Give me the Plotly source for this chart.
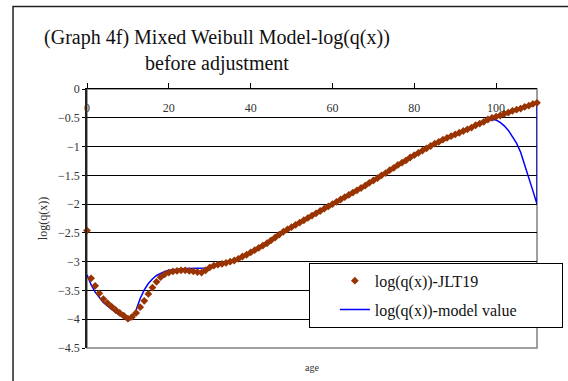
import plotly.graph_objects as go

ages = list(range(0, 111))

jlt19 = [
    -2.46, -3.29, -3.42, -3.55, -3.65, -3.72, -3.78, -3.84, -3.89, -3.94,
    -3.99, -3.96, -3.89, -3.79, -3.68, -3.56, -3.45, -3.35, -3.27, -3.22,
    -3.19, -3.17, -3.16, -3.15, -3.15, -3.16, -3.17, -3.18, -3.19, -3.15,
    -3.10, -3.07, -3.05, -3.04, -3.02, -3.00, -2.98, -2.95, -2.91, -2.88,
    -2.84, -2.80, -2.76, -2.72, -2.68, -2.63, -2.58, -2.53, -2.48, -2.44,
    -2.40, -2.36, -2.32, -2.28, -2.24, -2.20, -2.16, -2.12, -2.08, -2.04,
    -2.00, -1.96, -1.92, -1.88, -1.84, -1.80, -1.76, -1.72, -1.68, -1.63,
    -1.59, -1.55, -1.50, -1.46, -1.41, -1.37, -1.32, -1.28, -1.24, -1.19,
    -1.15, -1.11, -1.07, -1.03, -0.99, -0.95, -0.92, -0.88, -0.85, -0.82,
    -0.79, -0.76, -0.73, -0.70, -0.67, -0.63, -0.60, -0.57, -0.53, -0.50,
    -0.48, -0.46, -0.43, -0.41, -0.38, -0.36, -0.34, -0.31, -0.29, -0.26,
    -0.24,
]

model_ages = ages + [110]
model = [
    -3.23, -3.40, -3.53, -3.63, -3.71, -3.77, -3.83, -3.88, -3.93, -3.98,
    -4.03, -3.99, -3.84, -3.64, -3.49, -3.38, -3.30, -3.24, -3.20, -3.17,
    -3.15, -3.14, -3.13, -3.12, -3.12, -3.12, -3.12, -3.12, -3.12, -3.11,
    -3.09, -3.07, -3.05, -3.03, -3.01, -2.99, -2.96, -2.93, -2.90, -2.87,
    -2.83, -2.79, -2.75, -2.70, -2.66, -2.61, -2.56, -2.51, -2.46, -2.42,
    -2.38, -2.34, -2.30, -2.27, -2.23, -2.19, -2.15, -2.11, -2.07, -2.03,
    -1.99, -1.95, -1.91, -1.87, -1.83, -1.79, -1.75, -1.71, -1.66, -1.62,
    -1.57, -1.53, -1.48, -1.44, -1.39, -1.35, -1.30, -1.26, -1.22, -1.17,
    -1.13, -1.10, -1.06, -1.02, -0.98, -0.94, -0.91, -0.87, -0.84, -0.81,
    -0.78, -0.75, -0.72, -0.69, -0.66, -0.63, -0.60, -0.57, -0.54, -0.53,
    -0.54, -0.58, -0.64, -0.72, -0.82, -0.94, -1.10, -1.31, -1.54, -1.77,
    -2.00, -0.24,
]

title_lines = ["(Graph 4f) Mixed Weibull Model-log(q(x))", "before adjustment"]
series_names = ["log(q(x))-JLT19", "log(q(x))-model value"]
y_title = "log(q(x))"
x_title = "age"

FONT = "Liberation Serif"
PAD = "\u00a0" * 10

fig = go.Figure()
fig.add_trace(go.Scatter(
    x=model_ages, y=model, mode="lines", name=series_names[1] + PAD,
    line=dict(color="#0000FF", width=1.5),
    cliponaxis=False, legendgroup="b", legendrank=2,
))
fig.add_trace(go.Scatter(
    x=ages, y=jlt19, mode="markers", name=series_names[0],
    marker=dict(symbol="diamond", size=6, color="#993300"),
    cliponaxis=False, legendgroup="a", legendrank=1,
))
# invisible carrier so the label axis (x2) gets drawn
fig.add_trace(go.Scatter(
    x=ages, y=jlt19, xaxis="x2", mode="markers",
    marker=dict(opacity=0, size=1), showlegend=False, hoverinfo="skip",
))

fig.update_layout(
    width=568, height=381,
    margin=dict(l=87, r=31, t=89, b=33, autoexpand=False),
    paper_bgcolor="white", plot_bgcolor="white",
    font=dict(family=FONT, color="#222", size=11),
    showlegend=True,
    legend=dict(
        x=0.493, y=0.329, xanchor="left", yanchor="top",
        bgcolor="white", bordercolor="#000", borderwidth=1,
        font=dict(family=FONT, size=16, color="#111"),
        traceorder="grouped", tracegroupgap=5,
        itemwidth=30, indentation=25,
    ),
    title=dict(
        text="<br>".join(title_lines),
        x=0.382, xref="container", xanchor="center",
        y=1 - 43.5 / 381, yref="container", yanchor="middle",
        font=dict(family=FONT, size=20, color="#111"),
    ),
    xaxis=dict(
        range=[0, 110], tick0=0, dtick=20, side="top",
        ticks="outside", ticklen=5, tickcolor="#000",
        showticklabels=False,
        showline=True, linecolor="#000", linewidth=1,
        showgrid=False, zeroline=False,
    ),
    xaxis2=dict(
        range=[0, 110], overlaying="x", side="bottom", anchor="free", position=1,
        tick0=0, dtick=20, ticks="", showline=False, showgrid=False, zeroline=False,
        ticklabelstandoff=10,
        tickfont=dict(family=FONT, size=12, color="#333"),
    ),
    yaxis=dict(
        range=[-4.5, 0], tick0=0, dtick=0.5,
        ticks="outside", ticklen=3, tickcolor="#000",
        showline=True, linecolor="#222", linewidth=1.5,
        showgrid=True, gridcolor="#000", gridwidth=1,
        zeroline=False,
        tickfont=dict(family=FONT, size=12, color="#333"),
        title=dict(text=y_title, standoff=8, font=dict(family=FONT, size=12, color="#333")),
    ),
    shapes=[
        dict(type="rect", xref="paper", yref="paper", x0=0, x1=1, y0=0, y1=1,
             line=dict(color="#808080", width=1.5), layer="below"),
        dict(type="rect", xref="paper", yref="paper", x0=-0.1644, x1=1.2,
             y0=-0.3, y1=1.319, line=dict(color="#222", width=1.5)),
    ],
    annotations=[
        dict(text=x_title, xref="paper", yref="paper", x=0.5, y=-0.077,
             xanchor="center", yanchor="middle", showarrow=False,
             font=dict(family=FONT, size=10, color="#333")),
    ],
)

fig.write_html("out.html")
